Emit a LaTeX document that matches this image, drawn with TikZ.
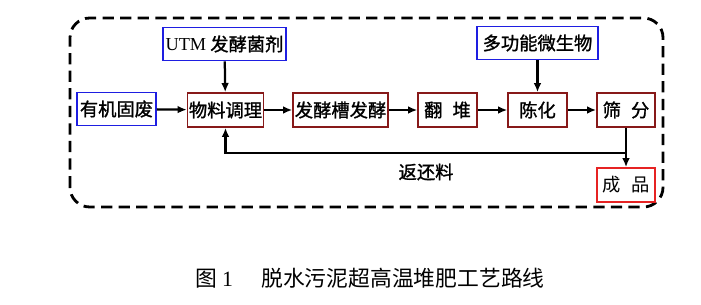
\documentclass[tikz,border=0pt]{standalone}
\usepackage{fontspec}
\setmainfont{Liberation Serif}
\newfontfamily\cjk{Noto Sans CJK SC}
\newfontfamily\cjkbf[FakeBold=1.3]{Noto Sans CJK SC}
\usepackage{tikz}
\usetikzlibrary{arrows.meta,positioning}
\definecolor{boxblue}{RGB}{30,30,225}
\definecolor{boxmaroon}{RGB}{135,25,25}
\definecolor{boxred}{RGB}{230,35,35}

\begin{document}
\begin{tikzpicture}[x=0.025cm, y=0.025cm, every node/.style={font=\fontsize{13}{15}\selectfont\cjkbf}, >={Latex[length=6.5pt,width=5.5pt]},
  bluebox/.style={draw=boxblue, line width=1.2pt, minimum height=0.83cm, inner sep=1pt},
  procbox/.style={draw=boxmaroon, line width=1.2pt, minimum height=0.85cm, inner sep=1pt},
  flow/.style={->, line width=1.6pt}]
\useasboundingbox (0,0) rectangle (701,304);
\draw[dash pattern=on 8pt off 4.5pt, line width=2pt, rounded corners=14pt] (70,97) rectangle (663,286);
\node[bluebox, minimum width=3.07cm] (utm) at (224.5,260) {{\rmfamily UTM} 发酵菌剂};
\node[bluebox, minimum width=3.02cm] (micro) at (537.5,261) {多功能微生物};
\node[bluebox, minimum width=1.97cm] (waste) at (116.5,195) {有机固废};
\node[procbox, minimum width=1.87cm] (prep) at (225.5,194) {物料调理};
\node[procbox, minimum width=2.37cm] (ferm) at (340.5,194) {发酵槽发酵};
\node[procbox, minimum width=1.47cm] (turn) at (447.5,194) {翻\hspace{0.55em}堆};
\node[procbox, minimum width=1.47cm] (aging) at (537.5,194) {陈化};
\node[procbox, minimum width=1.45cm] (sieve) at (626,194) {筛\hspace{0.55em}分};
\node[draw=boxred, line width=1.2pt, minimum width=1.45cm, minimum height=0.85cm, inner sep=1pt, font=\fontsize{13}{15}\selectfont\cjk] (prod) at (626,119) {成\hspace{0.55em}品};
\coordinate (fbR) at (626,151);
\draw[flow] (utm) -- (prep);
\draw[flow] (micro) -- (aging);
\draw[flow] (waste) -- (prep);
\draw[flow] (prep) -- (ferm);
\draw[flow] (ferm) -- (turn);
\draw[flow] (turn) -- (aging);
\draw[flow] (aging) -- (sieve);
\draw[flow] (sieve) -- (prod);
\draw[flow] (fbR) -| (prep.south);
\node (back) at (426,132) {返还料};
\node[font=\fontsize{15.5}{18}\selectfont\cjk] (cap) at (370,26) {图 {\rmfamily 1}\hspace{1.3em}脱水污泥超高温堆肥工艺路线};
\end{tikzpicture}
\end{document}
